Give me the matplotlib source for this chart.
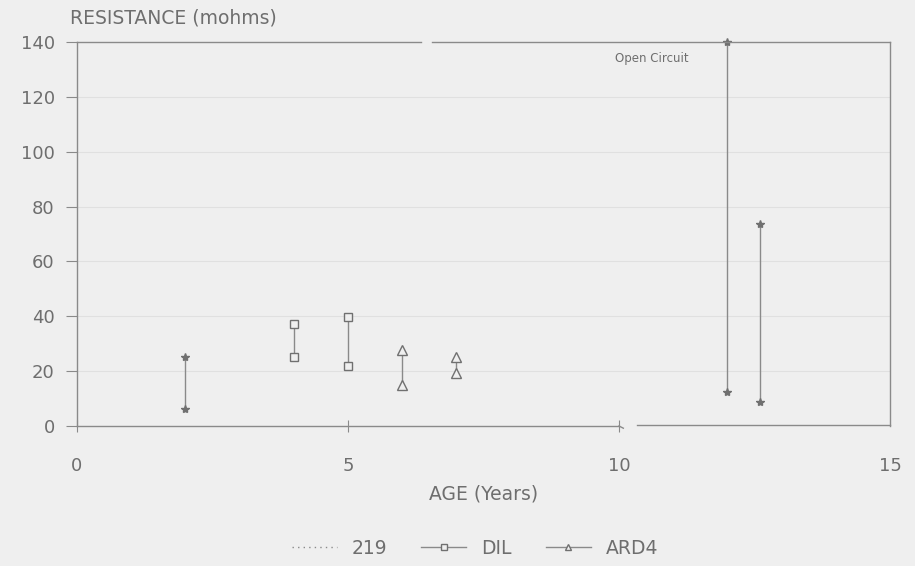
import matplotlib
matplotlib.use("Agg")
import matplotlib.pyplot as plt
from matplotlib.lines import Line2D

# ==========================================
# DATA
# ==========================================
x_219 = [2.0, 12.0, 12.6]
lo_219 = [6.2, 12.5, 8.9]
hi_219 = [25.3, 140.0, 73.7]

x_dil = [4.0, 5.0]
lo_dil = [25.0, 21.9]
hi_dil = [37.2, 39.9]

x_ard4 = [6.0, 7.0]
lo_ard4 = [15.0, 19.2]
hi_ard4 = [27.7, 25.0]

y_ticks = [0, 20, 40, 60, 80, 100, 120, 140]
x_ticks = [0, 5, 10, 15]

BG = '#efefef'
INK = '#6e6e6e'
LINE = '#8a8a8a'

plt.rcParams['font.family'] = ['DejaVu Sans']

fig = plt.figure(figsize=(9.15, 5.66), dpi=100, facecolor=BG)
ax = fig.add_axes([77 / 915, 1 - 426 / 566, (890 - 77) / 915, 384 / 566])
ax.set_facecolor(BG)

ax.set_xlim(0, 15)
ax.set_ylim(0, 140)

# faint horizontal rules like the scan
for yv in y_ticks[1:-1]:
    ax.axhline(yv, color='#e0e0e0', lw=0.8, zorder=0)


def range_bars(xs, los, his, marker, ms, mfc):
    for xv, lo, hi in zip(xs, los, his):
        ax.plot([xv, xv], [lo, hi], color=LINE, lw=1.0, marker=marker,
                ms=ms, mfc=mfc, mec='#707070', mew=1.0, clip_on=False)


range_bars(x_219, lo_219, hi_219, '*', 6, '#707070')
range_bars(x_dil, lo_dil, hi_dil, 's', 6, BG)
range_bars(x_ard4, lo_ard4, hi_ard4, '^', 7, BG)

ax.text(10.6, 134, 'Open Circuit', fontsize=8.5, color=INK, ha='center', va='center')

# spines: left and right normal, top/bottom drawn with the breaks
for s in ['top', 'bottom']:
    ax.spines[s].set_visible(False)
for s in ['left', 'right']:
    ax.spines[s].set_color(LINE)
    ax.spines[s].set_linewidth(1.0)
ax.plot([0, 6.35], [140, 140], color=LINE, lw=1.0, clip_on=False)
ax.plot([6.55, 15], [140, 140], color=LINE, lw=1.0, clip_on=False)
ax.plot([0, 10.0], [0, 0], color=LINE, lw=1.0, clip_on=False)
ax.plot([10.0, 10.08], [0, -0.8], color=LINE, lw=1.0, clip_on=False)
ax.plot([10.33, 15], [0.5, 0.5], color=LINE, lw=1.0, clip_on=False)

ax.set_yticks(y_ticks)
ax.set_xticks(x_ticks)
ax.set_xticklabels(['0', '5', '10', '15'])
ax.tick_params(axis='y', direction='out', length=8, color=LINE,
               labelcolor=INK, labelsize=13, pad=8)
ax.tick_params(axis='x', direction='inout', length=8, color=LINE,
               labelcolor=INK, labelsize=13, pad=18)
ax.xaxis.get_major_ticks()[-1].tick1line.set_visible(False)

fig.text(70 / 915, 1 - 18 / 566, 'RESISTANCE (mohms)', fontsize=13.5,
         color=INK, ha='left', va='center')
ax.set_xlabel('AGE (Years)', fontsize=13.5, color=INK, labelpad=7)

# legend proxies (styles as printed in the original key)
handles = [
    Line2D([], [], color=LINE, lw=1.0, linestyle=(0, (1, 3))),
    Line2D([], [], color=LINE, lw=1.0, marker='s', ms=5, mfc=BG, mec='#707070'),
    Line2D([], [], color=LINE, lw=1.0, marker='^', ms=5, mfc=BG, mec='#707070'),
]
labels = ['219', 'DIL', 'ARD4']
leg = fig.legend(handles, labels, loc='center', ncol=3,
                 bbox_to_anchor=(475 / 915, 1 - 548 / 566), frameon=False,
                 fontsize=13.5, handlelength=2.4, columnspacing=1.8,
                 handletextpad=0.8)
for t in leg.get_texts():
    t.set_color(INK)

fig.savefig('out.png', dpi=100, facecolor=BG)
